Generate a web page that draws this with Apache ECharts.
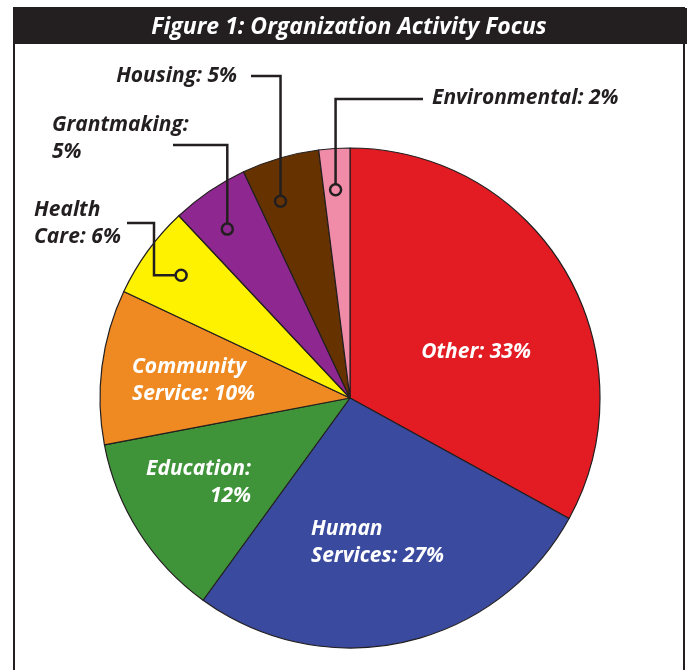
<!DOCTYPE html>
<html>
<head>
<meta charset="utf-8">
<script src="https://cdn.jsdelivr.net/npm/echarts@6/dist/echarts.min.js"></script>
<style>
html, body { margin: 0; padding: 0; background: #fff; }
#chart { width: 687px; height: 670px; }
</style>
</head>
<body>
<div id="chart"></div>
<script>
'use strict';
// data, clockwise from 12 o'clock
const categories = ['Other', 'Human Services', 'Education', 'Community Service',
    'Health Care', 'Grantmaking', 'Housing', 'Environmental'];
const shares = [33, 27, 12, 10, 6, 5, 5, 2];
const labelTexts = ['Other: 33%', 'Human\nServices: 27%', 'Education:\n12%', 'Community\nService: 10%',
    'Health\nCare: 6%', 'Grantmaking:\n5%', 'Housing: 5%', 'Environmental: 2%'];

const sliceColors = ['#E31B23', '#3A4A9E', '#3F9439', '#EE8A21', '#FFF200', '#8E278F', '#663300', '#F08BA8'];
const ink = '#231F20';
const CX = 350, CY = 398, R = 250;
const RING = 0.835;   // where the leader dots sit, as share of radius
const DOT = 5.5;
const FONT = 'Open Sans';

// label placement (layout only); nudge moves the dot along the arc
const places = [
    {x: 476, y: 352, align: 'center', inside: true},
    {x: 311, y: 543, align: 'left', inside: true},
    {x: 251, y: 483, align: 'right', inside: true},
    {x: 132, y: 381, align: 'left', inside: true},
    {x: 34, y: 224, align: 'left', path: 'health', nudge: 0},
    {x: 52, y: 139, align: 'left', path: 'grant', nudge: -0.5},
    {x: 237, y: 76, align: 'right', path: 'housing', nudge: -0.9},
    {x: 432, y: 98, align: 'left', path: 'env', nudge: -0.1}
];

function leader(kind, c) {
    if (kind === 'health') {
        return [[c[0] - DOT, c[1]], [154, c[1]], [154, 223], [127, 223]];
    }
    if (kind === 'grant') {
        return [[c[0], c[1] - DOT], [c[0], 145], [173, 145]];
    }
    if (kind === 'housing') {
        return [[c[0], c[1] - DOT], [c[0], 76], [251, 76]];
    }
    return [[c[0], c[1] - DOT], [c[0], 99], [423, 99]];
}

let dom = document.getElementById('chart');
let myChart = echarts.init(dom);

let pieData = categories.map(function (name, i) {
    let p = places[i];
    return {
        name: name,
        value: shares[i],
        itemStyle: {color: sliceColors[i]},
        label: {color: p.inside ? '#fff' : ink}
    };
});

// leader dots at the middle of each small slice
let dotData = [];
let dotPaths = [];
let cum = 0;
shares.forEach(function (v, i) {
    if (!places[i].inside) {
        dotData.push([RING, cum + v / 2 + places[i].nudge]);
        dotPaths.push(places[i].path);
    }
    cum += v;
});

let option = {
    animation: false,
    backgroundColor: '#fff',
    polar: {center: [CX, CY], radius: R},
    radiusAxis: {type: 'value', min: 0, max: 1, show: false},
    angleAxis: {type: 'value', min: 0, max: 100, startAngle: 90, clockwise: true, show: false},
    graphic: [
        {
            type: 'rect', z: 0, silent: true,
            shape: {x: 14, y: 8, width: 670, height: 700},
            style: {fill: 'none', stroke: ink, lineWidth: 2}
        },
        {
            type: 'rect', z: 1, silent: true,
            shape: {x: 13, y: 8, width: 674, height: 36},
            style: {fill: ink}
        },
        {
            type: 'text', z: 2, silent: true,
            x: 349, y: 27,
            style: {
                text: 'Figure 1: Organization Activity Focus',
                fill: '#fff', align: 'center', verticalAlign: 'middle',
                font: 'italic bold 23px "Open Sans"'
            }
        }
    ],
    series: [
        {
            type: 'pie',
            center: [CX, CY],
            radius: R,
            startAngle: 90,
            clockwise: true,
            avoidLabelOverlap: false,
            silent: true,
            itemStyle: {borderColor: ink, borderWidth: 1.2},
            label: {
                position: 'inside',
                formatter: function (p) { return labelTexts[p.dataIndex]; },
                fontFamily: FONT,
                fontStyle: 'italic',
                fontWeight: 'bold',
                fontSize: 21,
                lineHeight: 27
            },
            labelLine: {show: false},
            labelLayout: function (params) {
                let p = places[params.dataIndex];
                return {x: p.x, y: p.y, align: p.align, verticalAlign: 'middle', hideOverlap: false};
            },
            data: pieData
        },
        {
            type: 'custom',
            coordinateSystem: 'polar',
            silent: true,
            z: 5,
            renderItem: function (params, api) {
                let c = api.coord([api.value(0), api.value(1)]);
                return {
                    type: 'group',
                    children: [
                        {
                            type: 'polyline',
                            shape: {points: leader(dotPaths[params.dataIndex], c)},
                            style: {stroke: ink, lineWidth: 2.5, fill: null}
                        },
                        {
                            type: 'circle',
                            shape: {cx: c[0], cy: c[1], r: DOT},
                            style: {fill: 'none', stroke: ink, lineWidth: 2.5}
                        }
                    ]
                };
            },
            data: dotData
        }
    ]
};

if (option && typeof option === 'object') {
    myChart.setOption(option, true);
}
</script>
</body>
</html>
